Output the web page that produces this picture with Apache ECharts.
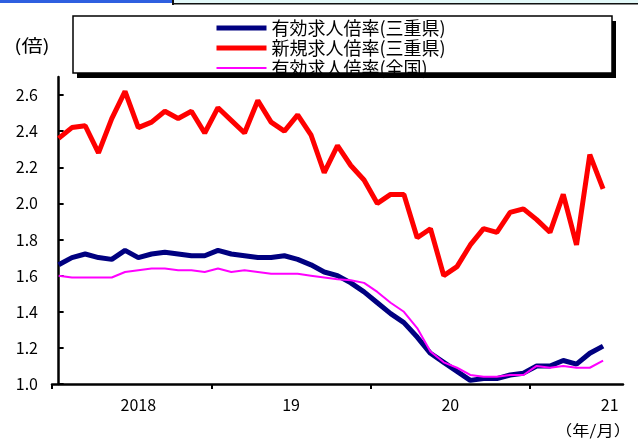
<!DOCTYPE html>
<html>
<head>
<meta charset="utf-8">
<script src="https://cdn.jsdelivr.net/npm/echarts@6/dist/echarts.min.js"></script>
<style>
html,body{margin:0;padding:0;background:#fff;}
#chart{width:638px;height:440px;}
</style>
</head>
<body>
<div id="chart"></div>
<script>
// Months Jan 2018 .. Jun 2021
const months = [
  '2018/1','2018/2','2018/3','2018/4','2018/5','2018/6','2018/7','2018/8','2018/9','2018/10','2018/11','2018/12',
  '2019/1','2019/2','2019/3','2019/4','2019/5','2019/6','2019/7','2019/8','2019/9','2019/10','2019/11','2019/12',
  '2020/1','2020/2','2020/3','2020/4','2020/5','2020/6','2020/7','2020/8','2020/9','2020/10','2020/11','2020/12',
  '2021/1','2021/2','2021/3','2021/4','2021/5','2021/6'
];
const seriesNames = ['有効求人倍率(三重県)', '新規求人倍率(三重県)', '有効求人倍率(全国)'];
const mieActive = [
  1.66,1.70,1.72,1.70,1.69,1.74,1.70,1.72,1.73,1.72,1.71,1.71,
  1.74,1.72,1.71,1.70,1.70,1.71,1.69,1.66,1.62,1.60,1.56,1.51,
  1.45,1.39,1.34,1.26,1.17,1.12,1.07,1.02,1.03,1.03,1.05,1.06,
  1.10,1.10,1.13,1.11,1.17,1.21
];
const mieNew = [
  2.36,2.42,2.43,2.28,2.47,2.62,2.42,2.45,2.51,2.47,2.51,2.39,
  2.53,2.46,2.39,2.57,2.45,2.40,2.49,2.38,2.17,2.32,2.21,2.13,
  2.00,2.05,2.05,1.81,1.86,1.60,1.65,1.77,1.86,1.84,1.95,1.97,
  1.91,1.84,2.05,1.77,2.27,2.08
];
const nationActive = [
  1.60,1.59,1.59,1.59,1.59,1.62,1.63,1.64,1.64,1.63,1.63,1.62,
  1.64,1.62,1.63,1.62,1.61,1.61,1.61,1.60,1.59,1.58,1.575,1.56,
  1.51,1.45,1.40,1.31,1.18,1.12,1.09,1.05,1.04,1.04,1.05,1.05,
  1.10,1.09,1.10,1.09,1.09,1.13
];
const yTickLabels = [1.0,1.2,1.4,1.6,1.8,2.0,2.2,2.4,2.6];
const yearLabels = ['2018','19','20','21'];
const yearLabelAt = [6, 17.5, 29.5, 41.5];   // month index where each year label sits
const yearBoundaries = [-0.5, 11.5, 23.5, 35.5];

const toPairs = arr => arr.map((v, i) => [i, v]);
const FONT = '"Noto Sans CJK JP", "Noto Sans", sans-serif';
const colors = ['#000080', '#ff0000', '#ff00ff'];
const widths = [5, 5, 2];

const chart = echarts.init(document.getElementById('chart'), null, {renderer: 'canvas'});
chart.setOption({
  animation: false,
  backgroundColor: '#ffffff',
  textStyle: {fontFamily: FONT},
  grid: {left: 52, right: 15, top: 77, bottom: 56},
  graphic: [
    {type: 'rect', shape: {x: 0, y: 0, width: 172, height: 3}, style: {fill: '#2f5fe0'}, silent: true},
    {type: 'rect', shape: {x: 172, y: 0, width: 2, height: 5}, style: {fill: '#111'}, silent: true},
    {type: 'rect', shape: {x: 174, y: 0, width: 464, height: 3}, style: {fill: '#e2f8f8'}, silent: true},
    {type: 'rect', shape: {x: 174, y: 3, width: 464, height: 1.5}, style: {fill: '#111'}, silent: true},
    {type: 'rect', z: -2, shape: {x: 77, y: 21, width: 539, height: 57}, style: {fill: '#000'}, silent: true},
    {type: 'rect', z: -1, shape: {x: 73, y: 16, width: 539, height: 57}, style: {fill: '#fff', stroke: '#000', lineWidth: 1.5}, silent: true},
    {type: 'text', x: 32, y: 46, scaleX: 1.25, style: {text: '(倍)', font: '17px ' + FONT, fill: '#000', align: 'center', verticalAlign: 'middle'}, silent: true},
    {type: 'text', x: 593, y: 430, scaleX: 1.15, style: {text: '（年/月）', font: '15px ' + FONT, fill: '#000', align: 'center', verticalAlign: 'middle'}, silent: true}
  ],
  legend: {
    orient: 'vertical',
    left: 214,
    top: 18,
    itemWidth: 50,
    itemHeight: 14,
    itemGap: 0,
    padding: 0,
    textStyle: {fontSize: 18, lineHeight: 20, color: '#000', fontFamily: FONT},
    itemStyle: {color: 'rgba(0,0,0,0)', borderWidth: 0, opacity: 0},
    data: seriesNames.map((n, k) => ({name: n, lineStyle: {color: colors[k], width: widths[k]}}))
  },
  xAxis: {
    type: 'value',
    min: -0.5,
    max: 42.5,
    splitLine: {show: false},
    axisLine: {show: true, lineStyle: {color: '#000', width: 2.5}},
    axisTick: {show: true, inside: false, length: 5, lineStyle: {color: '#000', width: 2}, customValues: yearBoundaries},
    axisLabel: {
      customValues: yearLabelAt,
      margin: 13,
      fontSize: 16,
      color: '#000',
      fontFamily: FONT,
      formatter: v => {
        const k = yearLabelAt.indexOf(v);
        return k >= 0 ? yearLabels[k] : '';
      }
    }
  },
  yAxis: {
    type: 'value',
    min: 1.0,
    max: 2.7,
    splitLine: {show: false},
    axisLine: {show: true, lineStyle: {color: '#000', width: 2.5}},
    axisTick: {show: true, inside: true, length: 5, lineStyle: {color: '#000', width: 2}, customValues: yTickLabels},
    axisLabel: {
      customValues: yTickLabels,
      margin: 14,
      fontSize: 16,
      color: '#000',
      fontFamily: FONT,
      formatter: v => v.toFixed(1)
    }
  },
  series: [
    {name: seriesNames[0], type: 'line', data: toPairs(mieActive), symbol: 'none', lineStyle: {color: colors[0], width: widths[0]}, itemStyle: {color: colors[0]}},
    {name: seriesNames[1], type: 'line', data: toPairs(mieNew), symbol: 'none', lineStyle: {color: colors[1], width: widths[1]}, itemStyle: {color: colors[1]}},
    {name: seriesNames[2], type: 'line', data: toPairs(nationActive), symbol: 'none', lineStyle: {color: colors[2], width: widths[2]}, itemStyle: {color: colors[2]}}
  ]
});
</script>
</body>
</html>
